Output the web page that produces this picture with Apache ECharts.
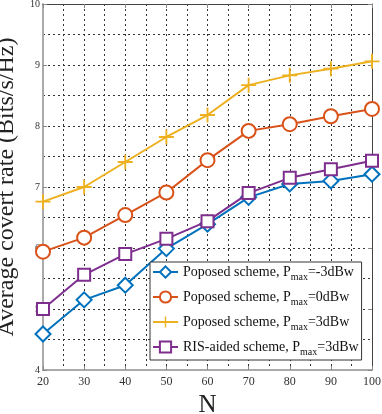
<!DOCTYPE html>
<html>
<head>
<meta charset="utf-8">
<script src="https://cdn.jsdelivr.net/npm/echarts@6/dist/echarts.min.js"></script>
<style>
  html, body { margin: 0; padding: 0; background: #fff; }
  #chart { width: 382px; height: 414px; }
</style>
</head>
<body>
<div id="chart"></div>
<script>
// x axis: number of elements N
const nValues = [20, 30, 40, 50, 60, 70, 80, 90, 100]

// average covert rate (bits/s/Hz)
const rateM3 = [4.59, 5.15, 5.39, 5.99, 6.39, 6.83, 7.05, 7.10, 7.21]
const rate0 = [5.94, 6.17, 6.54, 6.91, 7.44, 7.92, 8.03, 8.16, 8.28]
const rate3 = [6.76, 7.00, 7.41, 7.82, 8.18, 8.67, 8.83, 8.94, 9.06]
const risRate3 = [5.00, 5.56, 5.90, 6.15, 6.44, 6.90, 7.15, 7.29, 7.43]

// legend names: prefix, then subscript "max", then the rest
const legendParts = [
    ['Poposed scheme, P', '=-3dBw'],
    ['Poposed scheme, P', '=0dBw'],
    ['Poposed scheme, P', '=3dBw'],
    ['RIS-aided scheme, P', '=3dBw']
]
const seriesNames = legendParts.map(p => p[0] + 'max' + p[1])

const colors = ['#0072BD', '#D95319', '#EDB120', '#7E2F8E']
const serif = '"Liberation Serif", "DejaVu Serif", serif'
const plusPath = 'path://M7,0H9V7H16V9H9V16H7V9H0V7H7Z'

const chart = echarts.init(document.getElementById('chart'))

function makeSeries(i, data, symbol, size) {
    return {
        name: seriesNames[i],
        type: 'line',
        data: nValues.map((n, k) => [n, data[k]]),
        symbol: symbol,
        symbolSize: size,
        showAllSymbol: true,
        lineStyle: { color: colors[i], width: 2 },
        itemStyle: { color: colors[i], borderColor: colors[i], borderWidth: 2 },
        emphasis: { disabled: true },
        z: 3 + i
    }
}

const gridLine = { show: true, lineStyle: { color: '#333', type: [2, 3], width: 1 } }

let option = {
    animation: false,
    backgroundColor: '#fff',
    grid: { left: 43, right: 10, top: 4, bottom: 44, outerBoundsMode: 'none', containLabel: false },
    legend: {
        orient: 'vertical',
        left: 150,
        top: 262,
        backgroundColor: '#fff',
        borderColor: '#333',
        borderWidth: 1,
        padding: [3, 3, 3, 2],
        itemGap: 8,
        itemWidth: 25,
        itemHeight: 14,
        data: seriesNames,
        formatter: function (name) {
            const i = seriesNames.indexOf(name)
            return '{a|' + legendParts[i][0] + '}{s|max}{a|' + legendParts[i][1] + '}'
        },
        textStyle: {
            rich: {
                a: { fontFamily: serif, fontSize: 14, color: '#111' },
                s: { fontFamily: serif, fontSize: 10, color: '#111', padding: [10, 0, 0, 0] }
            }
        }
    },
    xAxis: [{
        type: 'value',
        min: 20, max: 100, interval: 10,
        name: 'N',
        nameLocation: 'middle',
        nameGap: 14,
        nameTextStyle: { fontFamily: serif, fontSize: 25, color: '#222' },
        axisLine: { lineStyle: { color: '#aaa', width: 2 } },
        axisTick: { inside: true, length: 4, lineStyle: { color: '#888' } },
        axisLabel: { fontFamily: serif, fontSize: 12, color: '#333', margin: 6 },
        splitLine: gridLine,
        minorTick: { show: false, splitNumber: 2 },
        minorSplitLine: gridLine
    }, {
        type: 'value', position: 'top',
        min: 20, max: 100, interval: 10,
        axisLine: { show: true, lineStyle: { color: '#444', width: 1 } },
        axisTick: { inside: true, length: 4, lineStyle: { color: '#888' } },
        axisLabel: { show: false },
        splitLine: { show: false }
    }],
    yAxis: [{
        type: 'value',
        min: 4, max: 10, interval: 1,
        name: 'Average covert rate (Bits/s/Hz)',
        nameLocation: 'middle',
        nameGap: 16,
        nameTextStyle: { fontFamily: serif, fontSize: 24, color: '#222' },
        axisLine: { show: true, lineStyle: { color: '#aaa', width: 2 } },
        axisTick: { show: true, inside: true, length: 4, lineStyle: { color: '#888' } },
        axisLabel: { fontFamily: serif, fontSize: 10, color: '#333', margin: 3 },
        splitLine: gridLine,
        minorTick: { show: false, splitNumber: 2 },
        minorSplitLine: gridLine
    }, {
        type: 'value', position: 'right',
        min: 4, max: 10, interval: 1,
        axisLine: { show: true, lineStyle: { color: '#444', width: 1 } },
        axisTick: { show: true, inside: true, length: 4, lineStyle: { color: '#888' } },
        axisLabel: { show: false },
        splitLine: { show: false }
    }],
    series: [
        makeSeries(0, rateM3, 'emptyDiamond', 15),
        makeSeries(1, rate0, 'emptyCircle', 14),
        makeSeries(2, rate3, plusPath, 15),
        makeSeries(3, risRate3, 'emptyRect', 12)
    ]
}
// plus marker is a filled cross, no border needed
option.series[2].itemStyle.borderWidth = 0

chart.setOption(option)
</script>
</body>
</html>
